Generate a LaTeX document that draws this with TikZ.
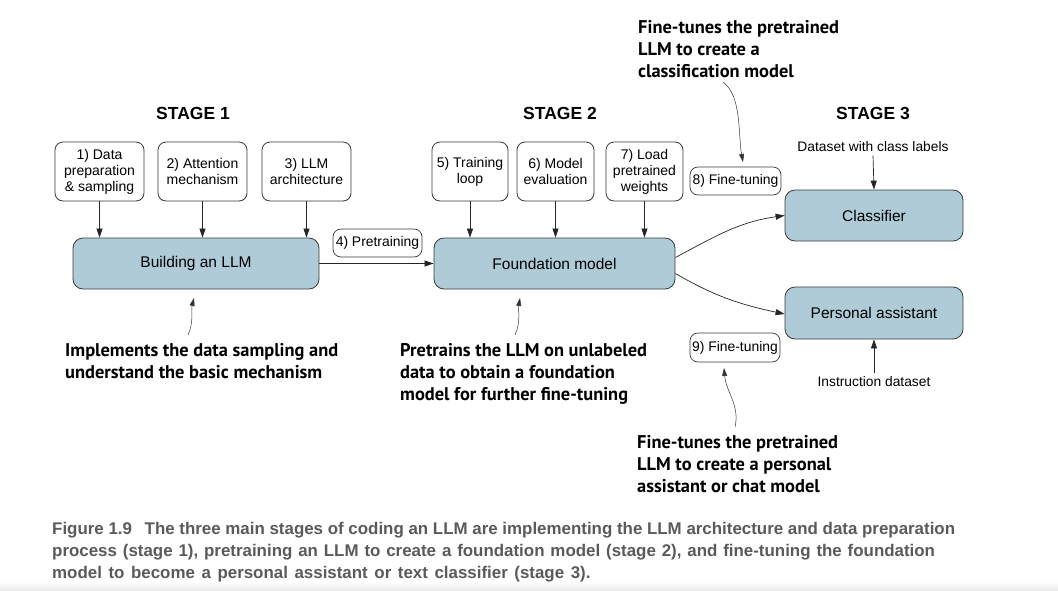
\documentclass[tikz,border=0pt]{standalone}
\usepackage{fontspec}
\setmainfont{Liberation Sans}
\newfontfamily\notefont{PT Sans}
\newfontfamily\capfont{Liberation Sans}
\usetikzlibrary{arrows.meta}
\definecolor{boxblue}{HTML}{AECBD7}
\definecolor{edgegray}{HTML}{3A3A3A}
\definecolor{capgray}{HTML}{5A5A5A}
\tikzset{
  smallbox/.style={draw=edgegray, line width=0.8pt, rounded corners=8pt, fill=white,
    minimum height=59pt, inner sep=1pt, align=center, font=\fontsize{14}{16}\selectfont},
  bigbox/.style={draw=edgegray, line width=0.8pt, rounded corners=10pt, fill=boxblue,
    minimum height=51pt, inner sep=1pt, align=center, font=\fontsize{15.5}{18}\selectfont},
  pill/.style={draw=edgegray, line width=0.7pt, rounded corners=8pt, fill=white,
    minimum height=28pt, inner sep=1pt, align=center, font=\fontsize{13.9}{16}\selectfont},
  stagelbl/.style={font=\bfseries\fontsize{17.5}{20}\selectfont},
  plainlbl/.style={font=\fontsize{13.8}{16}\selectfont},
  note/.style={anchor=north west, align=left, inner sep=0pt,
    font=\notefont\bfseries\fontsize{18.4}{22}\selectfont},
  arr/.style={-{Triangle[length=9pt,width=6pt]}, line width=0.7pt, draw=black!85},
  notearr/.style={-{Triangle[length=8pt,width=5pt]}, line width=0.5pt, draw=black!80},
  captxt/.style={anchor=west, inner sep=0pt, text=capgray,
    font=\capfont\bfseries\fontsize{16.9}{18}\selectfont}
}
\begin{document}
\begin{tikzpicture}[x=1pt,y=-1pt]
\useasboundingbox (0,0) rectangle (1058,590);
\shade[top color=white, bottom color=black!8] (0,582) rectangle (1058,590);

% stage labels
\node[stagelbl] (s1) at (193,113) {STAGE 1};
\node[stagelbl] (s2) at (560,113) {STAGE 2};
\node[stagelbl] (s3) at (873,113) {STAGE 3};

% stage 1
\node[smallbox, minimum width=89pt] (b1) at (99.5,171.5) {1) Data\\preparation\\\& sampling};
\node[smallbox, minimum width=89pt] (b2) at (202.5,171.5) {2) Attention\\mechanism};
\node[smallbox, minimum width=89pt] (b3) at (306.5,171.5) {3) LLM\\architecture};
\node[bigbox, minimum width=246pt] (build) at (196,263.5) {Building an LLM};

% stage 2
\node[pill, minimum width=89pt] (pre) at (377.5,243) {4) Pretraining};
\node[smallbox, minimum width=76pt] (b5) at (470,171.5) {5) Training\\loop};
\node[smallbox, minimum width=77pt] (b6) at (555.5,171.5) {6) Model\\evaluation};
\node[smallbox, minimum width=77pt] (b7) at (644.5,171.5) {7) Load\\pretrained\\weights};
\node[bigbox, minimum width=241pt] (found) at (554.5,263.5) {Foundation model};

% stage 3
\node[pill, minimum width=91pt] (ft8) at (735.5,181) {8) Fine-tuning};
\node[bigbox, minimum width=178pt] (cls) at (874,215.5) {Classifier};
\node[bigbox, minimum width=178pt, minimum height=52pt] (pa) at (874,313) {Personal assistant};
\node[pill, minimum width=90pt, minimum height=29pt] (ft9) at (735,347.5) {9) Fine-tuning};
\node[plainlbl] (dcl) at (873,147) {Dataset with class labels};
\node[plainlbl] (inst) at (874,382) {Instruction dataset};

% arrows into boxes
\draw[arr] (b1.south) -- (b1.south |- build.north);
\draw[arr] (b2.south) -- (b2.south |- build.north);
\draw[arr] (b3.south) -- (b3.south |- build.north);
\draw[arr] (b5.south) -- (b5.south |- found.north);
\draw[arr] (b6.south) -- (b6.south |- found.north);
\draw[arr] (b7.south) -- (b7.south |- found.north);
\draw[arr] (build.east) -- (found.west);
\draw[arr] (dcl.south) -- (cls.north);
\draw[arr] (inst.north) -- (pa.south);
\draw[arr] ([yshift=6pt]found.east) to[out=28,in=188] (cls.west);
\draw[arr] ([yshift=-10pt]found.east) to[out=-30,in=168] ([yshift=-1pt]pa.west);

% notes
\node[note] (n1) at (65,343) {Implements the data sampling and\\understand the basic mechanism};
\node[note] (n2) at (400,343) {Pretrains the LLM on unlabeled\\data to obtain a foundation\\model for further fine-tuning};
\node[note] (n3) at (638,20) {Fine-tunes the pretrained\\LLM to create a\\classification model};
\node[note] (n4) at (637,435) {Fine-tunes the pretrained\\LLM to create a personal\\assistant or chat model};

\coordinate (a1s) at (188,335);
\coordinate (a1e) at (194,298);
\coordinate (a2s) at (515,335);
\coordinate (a2e) at (520,298);
\coordinate (a3s) at (723,82);
\coordinate (a3e) at (743,162);
\coordinate (a4s) at (735,427);
\coordinate (a4e) at (724,368);
\draw[notearr] (a1s) .. controls (194,322) and (191,310) .. (a1e);
\draw[notearr] (a2s) .. controls (521,322) and (518,310) .. (a2e);
\draw[notearr] (a3s) .. controls (742,96) and (738,135) .. (a3e);
\draw[notearr] (a4s) .. controls (740,405) and (726,392) .. (a4e);

% caption
\node[captxt] (c1) at (52,530) {Figure 1.9\hspace{0.75em}The three main stages of coding an LLM are implementing the LLM architecture and data preparation};
\node[captxt] (c2) at (52,552) {\spaceskip=0.348em process (stage 1), pretraining an LLM to create a foundation model (stage 2), and fine-tuning the foundation};
\node[captxt] (c3) at (52,574) {\spaceskip=0.39em model to become a personal assistant or text classifier (stage 3).};
\end{tikzpicture}
\end{document}
